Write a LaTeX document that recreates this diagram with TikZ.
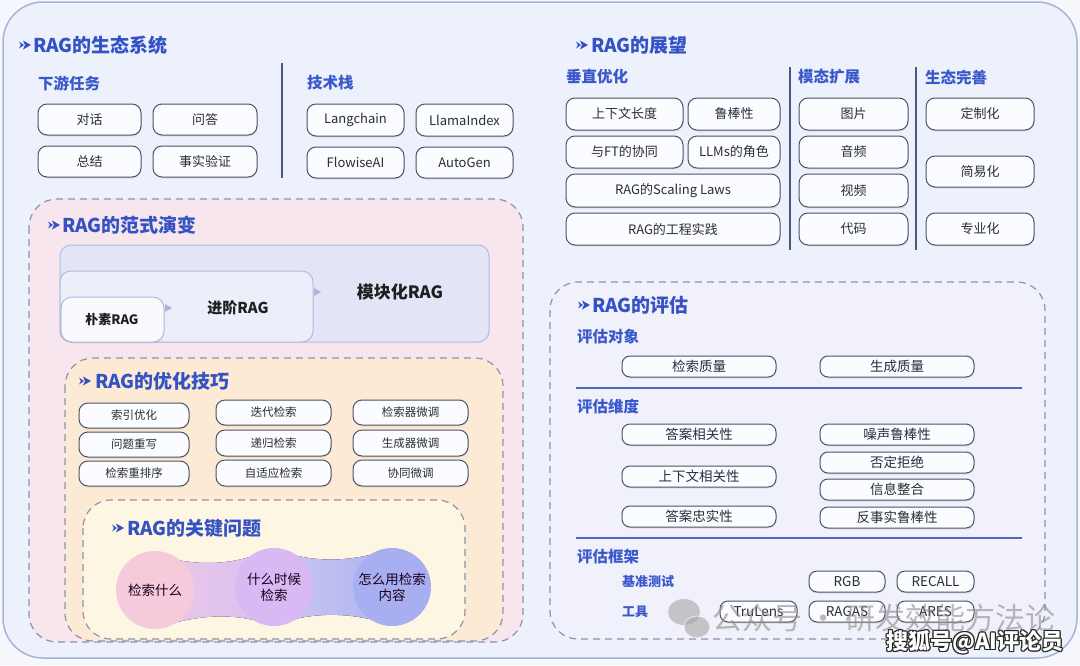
\documentclass[tikz,border=0pt]{standalone}
\usepackage{fontspec}
\setmainfont{Noto Sans CJK SC}
\usetikzlibrary{shadows}
\definecolor{pagebg}{HTML}{F6F8FD}
\definecolor{framebg}{HTML}{EDF1FB}
\definecolor{frameln}{HTML}{A7B4D8}
\definecolor{titleC}{HTML}{3552C5}
\definecolor{subC}{HTML}{3A58CC}
\definecolor{divC}{HTML}{4D5A80}
\definecolor{pillln}{HTML}{4E5266}
\definecolor{pillbg}{HTML}{FBFCFF}
\definecolor{txtC}{HTML}{2B2D38}
\definecolor{dashC}{HTML}{8C92AE}
\definecolor{pinkbg}{HTML}{F8E6EE}
\definecolor{orangebg}{HTML}{FCEAD4}
\definecolor{yellowbg}{HTML}{FDF6E2}
\definecolor{evalbg}{HTML}{F1F1FC}
\definecolor{modbg}{HTML}{E3E5F7}
\definecolor{advbg}{HTML}{ECEEFA}
\definecolor{naivebg}{HTML}{F9F9FE}
\definecolor{parln}{HTML}{B5B9E0}
\definecolor{arrC}{HTML}{AEB3DC}
\definecolor{lineC}{HTML}{4F66C0}
\definecolor{cA}{HTML}{F5CADB}
\definecolor{cB}{HTML}{DAB8F4}
\definecolor{cC}{HTML}{A8AFF1}
\definecolor{bandA}{HTML}{EBC8E4}
\definecolor{bandB}{HTML}{D9BFF3}
\definecolor{bandC}{HTML}{CCC6F0}
\definecolor{bandD}{HTML}{AEB4F0}
\newcommand\bx[7][]{\node[pill,#1,minimum width={(#5-#3)*1pt},minimum height={(#6-#4)*1pt}] (#2) at ({(#3+#5)/2},{(#4+#6)/2}) {#7};}
\newcommand\mk[2]{%
  \fill[titleC] (#1,#2-3.5) -- (#1+5,#2) -- (#1,#2+3.5) -- (#1+1.8,#2) -- cycle;
  \fill[titleC] (#1+4,#2-4.5) -- (#1+12,#2) -- (#1+4,#2+4.5) -- (#1+6,#2) -- cycle;}
\begin{document}
\begin{tikzpicture}[x=1pt,y=-1pt,
 pill/.style={draw=pillln, line width=1pt, fill=pillbg, rounded corners=9pt, inner sep=0pt, text=txtC,
   font=\fontsize{13}{15}\selectfont, drop shadow={opacity=0.15, shadow xshift=0.5pt, shadow yshift=-1.5pt}},
 small/.style={font=\fontsize{11.5}{13}\selectfont},
 evalpill/.style={font=\fontsize{13.5}{15}\selectfont, rounded corners=8pt},
 ttl/.style={anchor=west, inner sep=0pt, text=titleC, font=\fontsize{19}{22}\selectfont\bfseries},
 subh/.style={anchor=west, inner sep=0pt, text=subC, font=\fontsize{15.5}{18}\selectfont\bfseries},
 subs/.style={anchor=west, inner sep=0pt, text=subC, font=\fontsize{13}{15}\selectfont\bfseries},
 dbox/.style={draw=dashC, line width=1.2pt, dash pattern=on 7pt off 5pt, rounded corners=28pt},
 divider/.style={draw=divC, line width=1.6pt},
 hline/.style={draw=lineC, line width=1.6pt},
 parbox/.style={draw=parln, line width=1pt, rounded corners=11pt, inner sep=0pt},
 partxt/.style={inner sep=0pt, text=black!88, font=\bfseries},
 circ/.style={circle, minimum size=78pt, inner sep=0pt, align=center, text=black!78!violet, font=\fontsize{13.5}{16}\selectfont},
]
\useasboundingbox (0,0) rectangle (1080,665);
\fill[pagebg] (0,0) rectangle (1080,665);
\draw[frameln, line width=1.5pt, fill=framebg, rounded corners=40pt] (3,2) rectangle (1077,658);

% ===== ecosystem =====
\mk{19}{45}
\node[ttl] (t1) at (33,45) {RAG的生态系统};
\node[subh] (s1) at (38,83) {下游任务};
\node[subh] (s2) at (307,83) {技术栈};
\coordinate (d1a) at (282,63); \coordinate (d1b) at (282,178);
\draw[divider] (d1a) -- (d1b);
\bx{e1}{38}{104}{141}{135}{对话}
\bx{e2}{153}{104}{257}{135}{问答}
\bx{e3}{38}{146}{141}{177}{总结}
\bx{e4}{153}{146}{257}{177}{事实验证}
\bx{e5}{307}{104}{404}{136}{Langchain}
\bx{e6}{416}{104}{513}{136}{LlamaIndex}
\bx{e7}{307}{147}{404}{178}{FlowiseAI}
\bx{e8}{416}{147}{513}{178}{AutoGen}

% ===== outlook =====
\mk{576}{45}
\node[ttl] (t2) at (591,45) {RAG的展望};
\node[subh] (s3) at (566,77) {垂直优化};
\node[subh] (s4) at (798,77) {模态扩展};
\node[subh] (s5) at (925,77) {生态完善};
\coordinate (d2a) at (790,67); \coordinate (d2b) at (790,250);
\coordinate (d3a) at (916,67); \coordinate (d3b) at (916,250);
\draw[divider] (d2a) -- (d2b);
\draw[divider] (d3a) -- (d3b);
\bx{o1}{566}{98}{683}{130}{上下文长度}
\bx{o2}{688}{98}{780}{130}{鲁棒性}
\bx{o3}{566}{136}{683}{168}{与FT的协同}
\bx{o4}{688}{136}{780}{168}{LLMs的角色}
\bx{o5}{566}{174}{780}{207}{RAG的Scaling Laws}
\bx{o6}{566}{213}{780}{245}{RAG的工程实践}
\bx{o7}{799}{98}{908}{130}{图片}
\bx{o8}{799}{136}{908}{168}{音频}
\bx{o9}{799}{174}{908}{207}{视频}
\bx{o10}{799}{213}{908}{245}{代码}
\bx{o11}{926}{98}{1034}{130}{定制化}
\bx{o12}{926}{156}{1034}{187}{简易化}
\bx{o13}{926}{213}{1034}{245}{专业化}

% ===== paradigm =====
\draw[dbox, fill=pinkbg] (29,199) rectangle (523,642);
\mk{48}{225}
\node[ttl] (t3) at (62,225) {RAG的范式演变};
\node[parbox, fill=modbg, minimum width=429pt, minimum height=97pt] (mod) at (274.5,293.5) {};
\node[parbox, fill=advbg, minimum width=253pt, minimum height=71pt] (adv) at (186.5,306.5) {};
\node[parbox, fill=naivebg, minimum width=103pt, minimum height=45pt, drop shadow={opacity=0.12, shadow xshift=0.5pt, shadow yshift=-1.5pt}] (nai) at (112.5,319.5) {};
\node[partxt, font=\fontsize{17}{20}\selectfont\bfseries] (modt) at (400,292) {模块化RAG};
\node[partxt, font=\fontsize{15}{18}\selectfont\bfseries] (advt) at (238,308) {进阶RAG};
\node[partxt, font=\fontsize{13}{15}\selectfont\bfseries] (nait) at (112,320) {朴素RAG};
\fill[arrC] (165,304) -- (172,308) -- (165,312) -- cycle;
\fill[arrC] (314,288) -- (321,292) -- (314,296) -- cycle;

% ===== optimization =====
\draw[dbox, fill=orangebg] (65,358) rectangle (503,641);
\mk{79}{381}
\node[ttl] (t4) at (95,381) {RAG的优化技巧};
\bx[small]{p1}{79}{403}{189}{428}{索引优化}
\bx[small]{p2}{79}{432}{189}{457}{问题重写}
\bx[small]{p3}{79}{461}{189}{486}{检索重排序}
\bx[small]{p4}{216}{400}{331}{425}{迭代检索}
\bx[small]{p5}{216}{430}{331}{456}{递归检索}
\bx[small]{p6}{216}{460}{331}{486}{自适应检索}
\bx[small]{p7}{353}{400}{468}{425}{检索器微调}
\bx[small]{p8}{353}{430}{468}{456}{生成器微调}
\bx[small]{p9}{353}{460}{468}{486}{协同微调}

% ===== key issues =====
\draw[dbox, fill=yellowbg] (83,500) rectangle (465,639);
\mk{112}{528}
\node[ttl] (t5) at (127,528) {RAG的关键问题};
\fill[left color=bandA, right color=bandB] (160,556) .. controls (200,567) and (235,565) .. (268,550) -- (268,624) .. controls (235,613) and (200,614) .. (160,627) -- cycle;
\fill[left color=bandC, right color=bandD] (280,551) .. controls (315,563) and (350,562) .. (388,550) -- (388,624) .. controls (350,612) and (315,612) .. (280,623) -- cycle;
\node[circ, fill=cA] (k1) at (155,590) {检索什么};
\node[circ, fill=cB] (k2) at (274,587) {什么时候\\检索};
\node[circ, fill=cC] (k3) at (392,587) {怎么用检索\\内容};

% ===== evaluation =====
\draw[dbox, fill=evalbg] (550,282) rectangle (1045,639);
\mk{578}{305}
\node[ttl] (t6) at (592,305) {RAG的评估};
\node[subh] (s6) at (577,337) {评估对象};
\node[subh] (s7) at (577,407) {评估维度};
\node[subh] (s8) at (577,557) {评估框架};
\node[subs] (s9) at (622,582) {基准测试};
\node[subs] (s10) at (622,612) {工具};
\coordinate (h1a) at (576,388); \coordinate (h1b) at (1022,388);
\coordinate (h2a) at (576,538); \coordinate (h2b) at (1022,538);
\draw[hline] (h1a) -- (h1b);
\draw[hline] (h2a) -- (h2b);
\bx[evalpill]{v1}{622}{356}{776}{377}{检索质量}
\bx[evalpill]{v2}{820}{356}{974}{377}{生成质量}
\bx[evalpill]{v3}{622}{424}{776}{445}{答案相关性}
\bx[evalpill]{v4}{622}{466}{776}{487}{上下文相关性}
\bx[evalpill]{v5}{622}{506}{776}{527}{答案忠实性}
\bx[evalpill]{v6}{820}{424}{974}{445}{噪声鲁棒性}
\bx[evalpill]{v7}{820}{452}{974}{473}{否定拒绝}
\bx[evalpill]{v8}{820}{479}{974}{500}{信息整合}
\bx[evalpill]{v9}{820}{507}{974}{528}{反事实鲁棒性}
\bx[evalpill]{v10}{809}{571}{885}{592}{RGB}
\bx[evalpill]{v11}{897}{571}{974}{592}{RECALL}
\bx[evalpill]{v12}{720}{601}{797}{622}{TruLens}
\bx[evalpill]{v13}{809}{601}{885}{622}{RAGAS}
\bx[evalpill]{v14}{897}{601}{974}{622}{ARES}

% ===== watermarks =====
\fill[black!35, opacity=0.6] (684,612) ellipse [x radius=16, y radius=13];
\fill[black!35, opacity=0.6, draw=white, line width=1pt] (697,627) ellipse [x radius=13, y radius=11];
\node[anchor=west, inner sep=0pt, text=black!45, opacity=0.6, font=\fontsize{30}{32}\selectfont] (wm) at (712,618) {公众号 · 研发效能方法论};
\foreach \dx/\dy [count=\i] in {1/0,-1/0,0/1,0/-1,1/1,-1/-1,1/-1,-1/1}
  \node[anchor=west, inner sep=0pt, text=black!85, font=\fontsize{22}{24}\selectfont\bfseries] (wb\i) at (886+\dx,642+\dy) {搜狐号@AI评论员};
\node[anchor=west, inner sep=0pt, text=white, font=\fontsize{22}{24}\selectfont\bfseries] (wf) at (886,642) {搜狐号@AI评论员};
\end{tikzpicture}
\end{document}
